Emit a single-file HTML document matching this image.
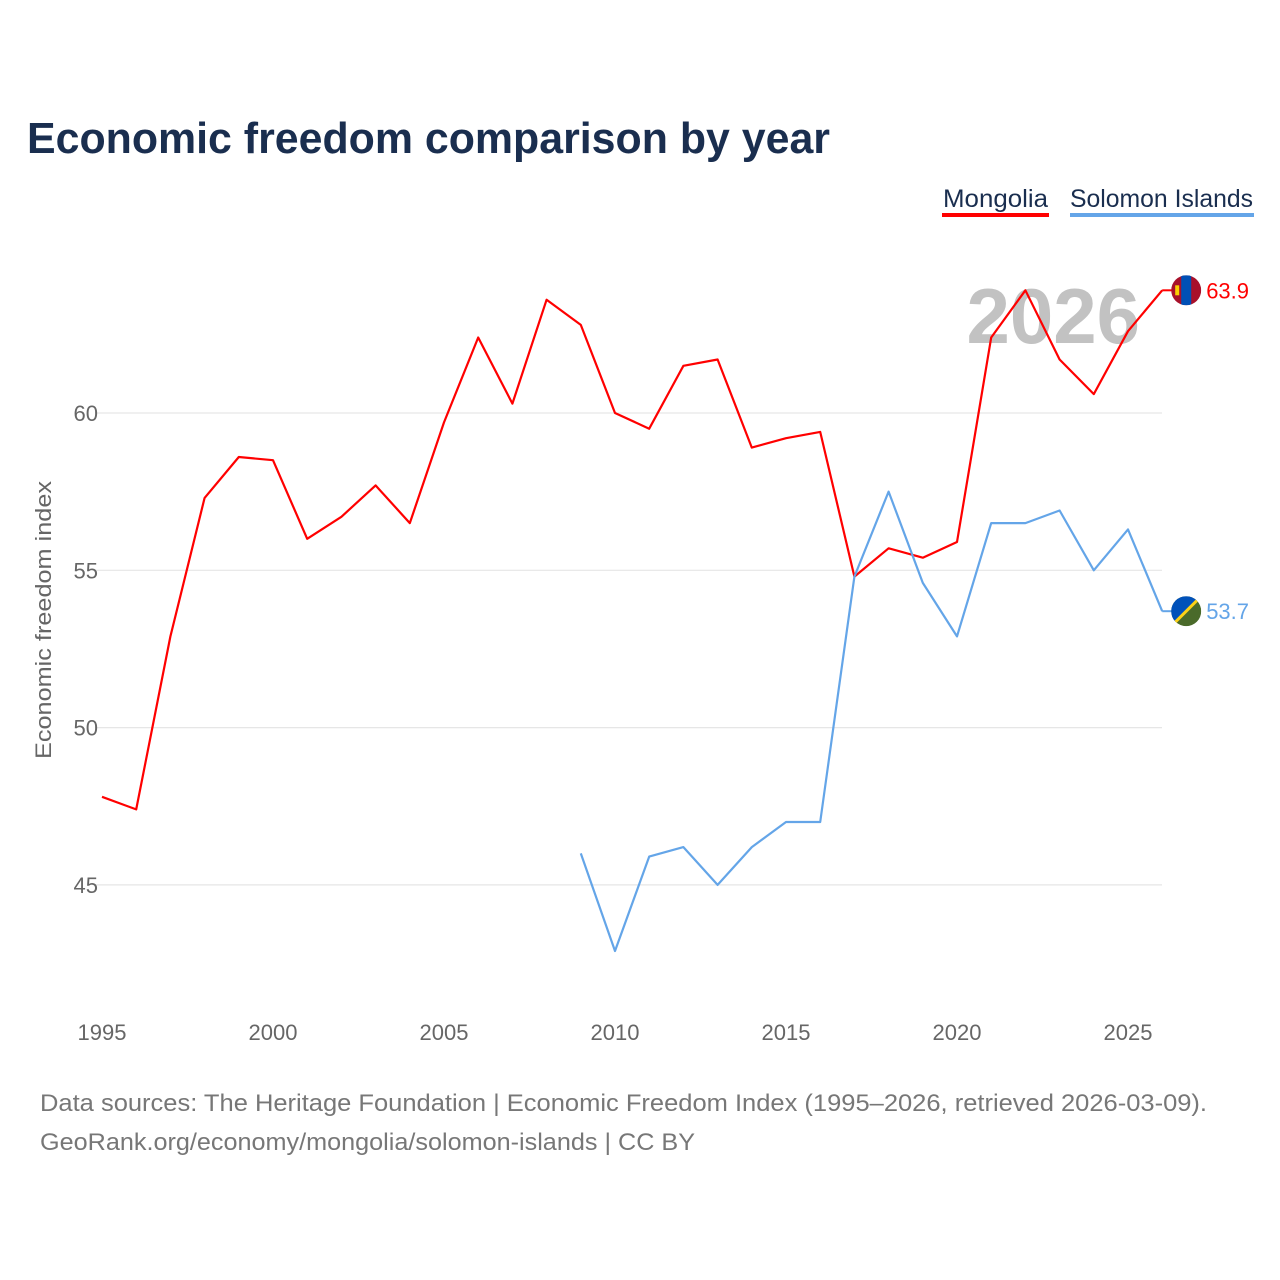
<!DOCTYPE html>
<html><head><meta charset="utf-8">
<style>
html,body{margin:0;padding:0;background:#fff;width:1280px;height:1280px;overflow:hidden}
svg text{font-family:"Liberation Sans",sans-serif}
</style></head>
<body>
<svg id="chart" width="1280" height="1280" xmlns="http://www.w3.org/2000/svg">
<text x="27" y="153" font-size="44" font-weight="bold" fill="#1a2e4f" textLength="803" lengthAdjust="spacingAndGlyphs">Economic freedom comparison by year</text>
<g>
<text x="943" y="207" font-size="25" fill="#1a2e4f" textLength="105" lengthAdjust="spacingAndGlyphs">Mongolia</text>
<rect x="942" y="213" width="107" height="4" fill="#ff0000"/>
</g>
<g>
<text x="1070" y="207" font-size="25" fill="#1a2e4f" textLength="183" lengthAdjust="spacingAndGlyphs">Solomon Islands</text>
<rect x="1070" y="213" width="184" height="4" fill="#64a5e8"/>
</g>
<text x="1140" y="343" text-anchor="end" font-size="78" font-weight="bold" fill="#c2c2c2">2026</text>
<text transform="translate(51,620) rotate(-90)" text-anchor="middle" font-size="22" fill="#666" textLength="278" lengthAdjust="spacingAndGlyphs">Economic freedom index</text>
<text x="40" y="1111" font-size="24" fill="#777" textLength="1167" lengthAdjust="spacingAndGlyphs">Data sources: The Heritage Foundation | Economic Freedom Index (1995–2026, retrieved 2026-03-09).</text>
<text x="40" y="1150" font-size="24" fill="#777" textLength="655" lengthAdjust="spacingAndGlyphs">GeoRank.org/economy/mongolia/solomon-islands | CC BY</text>
</svg>
<script>
const years = [1995,1996,1997,1998,1999,2000,2001,2002,2003,2004,2005,2006,2007,2008,2009,2010,2011,2012,2013,2014,2015,2016,2017,2018,2019,2020,2021,2022,2023,2024,2025,2026];
const mongolia = [47.8,47.4,52.9,57.3,58.6,58.5,56.0,56.7,57.7,56.5,59.7,62.4,60.3,63.6,62.8,60.0,59.5,61.5,61.7,58.9,59.2,59.4,54.8,55.7,55.4,55.9,62.4,63.9,61.7,60.6,62.6,63.9];
const solomon = [null,null,null,null,null,null,null,null,null,null,null,null,null,null,46.0,42.9,45.9,46.2,45.0,46.2,47.0,47.0,54.8,57.5,54.6,52.9,56.5,56.5,56.9,55.0,56.3,53.7];
const yTicks = [45,50,55,60];
const xTicks = [1995,2000,2005,2010,2015,2020,2025];

const NS = "http://www.w3.org/2000/svg";
const svg = document.getElementById('chart');
const xs = y => 102 + (y - 1995) * (1026 / 30);
const ys = v => 413 - (v - 60) * (157.3 / 5);
function mk(tag, attrs, parent){const e=document.createElementNS(NS,tag);for(const k in attrs)e.setAttribute(k,attrs[k]);(parent||svg).appendChild(e);return e;}

const grid = mk('g',{});


svg.insertBefore(grid, svg.children[3]);
yTicks.forEach(t=>{
  const l = mk('line',{x1:95,x2:1162,y1:ys(t),y2:ys(t),stroke:'#e6e6e6','stroke-width':1.2},grid);
  
  
  const tx = mk('text',{x:98,y:ys(t)+8,'text-anchor':'end','font-size':22,fill:'#666'});
  tx.textContent = t;
  
  
});
xTicks.forEach(t=>{
  const tx = mk('text',{x:xs(t),y:1040,'text-anchor':'middle','font-size':22,fill:'#666'});
  tx.textContent = t;
  
  
});

function series(vals, color, name){
  let d='';
  vals.forEach((v,i)=>{ if(v==null) return; d += (d?'L':'M') + xs(years[i]).toFixed(1) + ',' + ys(v).toFixed(1); });
  const p = mk('path',{d:d,fill:'none',stroke:color,'stroke-width':2.2,'stroke-linejoin':'round'});
  
  
  const last = vals[vals.length-1];
  const x0 = xs(years[years.length-1]), y0 = ys(last);
  const c = mk('line',{x1:x0,x2:x0+12,y1:y0,y2:y0,stroke:color,'stroke-width':2});
  
  
  const lbl = mk('text',{x:x0+44,y:y0+8,'font-size':22,fill:color});
  lbl.textContent = last.toFixed(1);
  
  
  return {cx:x0+24, cy:y0};
}
const m = series(mongolia,'#ff0000','mongolia');
const s = series(solomon,'#64a5e8','solomon-islands');

const fm = mk('g',{});


mk('defs',{}).innerHTML = '<clipPath id="cm"><circle cx="'+m.cx+'" cy="'+m.cy+'" r="15"/></clipPath><clipPath id="cs"><circle cx="'+s.cx+'" cy="'+s.cy+'" r="15"/></clipPath>';
mk('rect',{x:m.cx-15,y:m.cy-15,width:30,height:30,fill:'#a8102a','clip-path':'url(#cm)'},fm);
mk('rect',{x:m.cx-5,y:m.cy-15,width:10,height:30,fill:'#0050b5','clip-path':'url(#cm)'},fm);
mk('rect',{x:m.cx-11,y:m.cy-5,width:4,height:10,fill:'#f9cf02'},fm);
const fs = mk('g',{});


mk('rect',{x:s.cx-15,y:s.cy-15,width:30,height:30,fill:'#4a6a2a','clip-path':'url(#cs)'},fs);
mk('polygon',{points:(s.cx-15)+','+(s.cy-15)+' '+(s.cx+15)+','+(s.cy-15)+' '+(s.cx-15)+','+(s.cy+15),fill:'#0051ba','clip-path':'url(#cs)'},fs);
mk('line',{x1:s.cx-15,y1:s.cy+15,x2:s.cx+15,y2:s.cy-15,stroke:'#fcd116','stroke-width':3,'clip-path':'url(#cs)'},fs);
</script>
</body></html>
